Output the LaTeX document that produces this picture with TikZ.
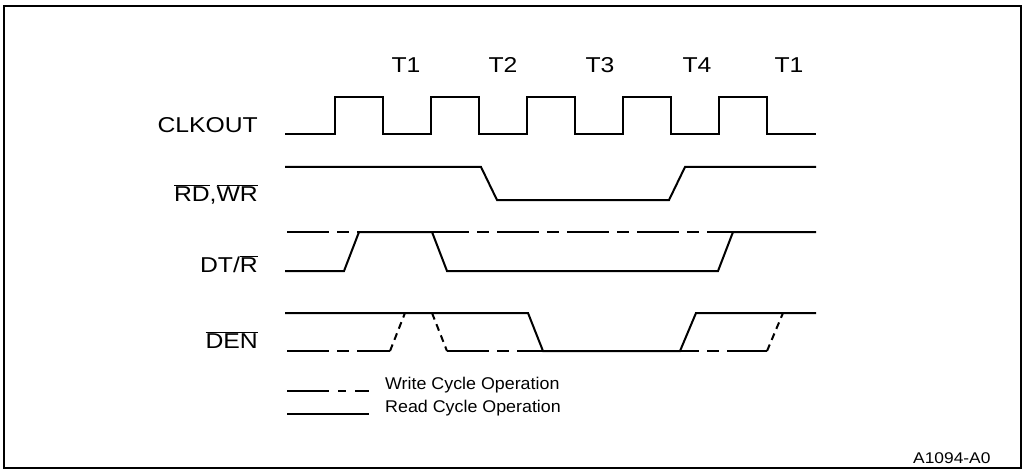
\documentclass[tikz,border=0pt]{standalone}
\usepackage{fontspec}
\setmainfont{Liberation Sans}
\newcommand{\sx}[1]{\scalebox{1.15}[1]{#1}}
\newcommand{\ovl}[1]{\ensuremath{\overline{\mbox{#1}}}}
\begin{document}
\begin{tikzpicture}[x=1pt,y=-1pt,
  sig/.style={line width=2pt, line join=miter},
  wr/.style={line width=2pt, dash pattern=on 42pt off 8pt on 12pt off 8pt},
  wrslope/.style={line width=2pt, dash pattern=on 7pt off 5pt},
  lbl/.style={anchor=base east, inner sep=0pt, font=\fontsize{21.5}{25}\selectfont},
  tlbl/.style={anchor=base, inner sep=0pt, font=\fontsize{21.5}{25}\selectfont},
  leg/.style={anchor=base west, inner sep=0pt, font=\fontsize{17}{20}\selectfont},
  idl/.style={anchor=base west, inner sep=0pt, font=\fontsize{15.5}{18}\selectfont}]
\useasboundingbox (0,0) rectangle (1027,473);
\draw[line width=2pt] (4,6) rectangle (1021,468);

% labels
\node[lbl] (clk) at (258,133) {\sx{CLKOUT}};
\node[lbl] (rdwr) at (258,201) {\sx{\ovl{RD},\ovl{WR}}};
\node[lbl] (dtr) at (258,272) {\sx{DT/\ovl{R}}};
\node[lbl] (den) at (258,348) {\sx{\ovl{DEN}}};

\node[tlbl] (t1a) at (406,73) {\sx{T1}};
\node[tlbl] (t2) at (503,73) {\sx{T2}};
\node[tlbl] (t3) at (600,73) {\sx{T3}};
\node[tlbl] (t4) at (697,73) {\sx{T4}};
\node[tlbl] (t1b) at (789,73) {\sx{T1}};

% CLKOUT
\draw[sig] (285,134) -- (335,134) -- (335,97) -- (383,97) -- (383,134) -- (431,134) -- (431,97) -- (479,97) -- (479,134) -- (527,134) -- (527,97) -- (575,97) -- (575,134) -- (623,134) -- (623,97) -- (671,97) -- (671,134) -- (719,134) -- (719,97) -- (767,97) -- (767,134) -- (816,134);

% RD, WR
\draw[sig] (285,167) -- (481,167) -- (497,200) -- (669,200) -- (685,167) -- (816,167);

% DT/R
\draw[wr] (287,232) -- (733,232);
\draw[sig] (285,271) -- (344,271) -- (359,232) -- (432,232) -- (447,271) -- (718,271) -- (733,232) -- (816,232);

% DEN
\draw[sig] (285,313) -- (528,313) -- (543,351) -- (680,351) -- (696,313) -- (816,313);
\draw[wr] (287,351) -- (390,351);
\draw[wrslope] (390,351) -- (405,313);
\draw[sig] (405,313) -- (432,313);
\draw[wrslope] (432,313) -- (447,351);
\draw[wr] (447,351) -- (767,351);
\draw[wrslope] (767,351) -- (783,313);

% legend
\draw[line width=2pt] (287,391) -- (329,391);
\draw[line width=2pt] (338,391) -- (346,391);
\draw[line width=2pt] (355,391) -- (369,391);
\draw[line width=2pt] (287,414) -- (369,414);
\node[leg] (lw) at (385,389) {\scalebox{1.05}[1]{Write Cycle Operation}};
\node[leg] (lr) at (385,412) {\scalebox{1.05}[1]{Read Cycle Operation}};

\node[idl] (id) at (913,463) {\scalebox{1.12}[1]{A1094-A0}};
\end{tikzpicture}
\end{document}
